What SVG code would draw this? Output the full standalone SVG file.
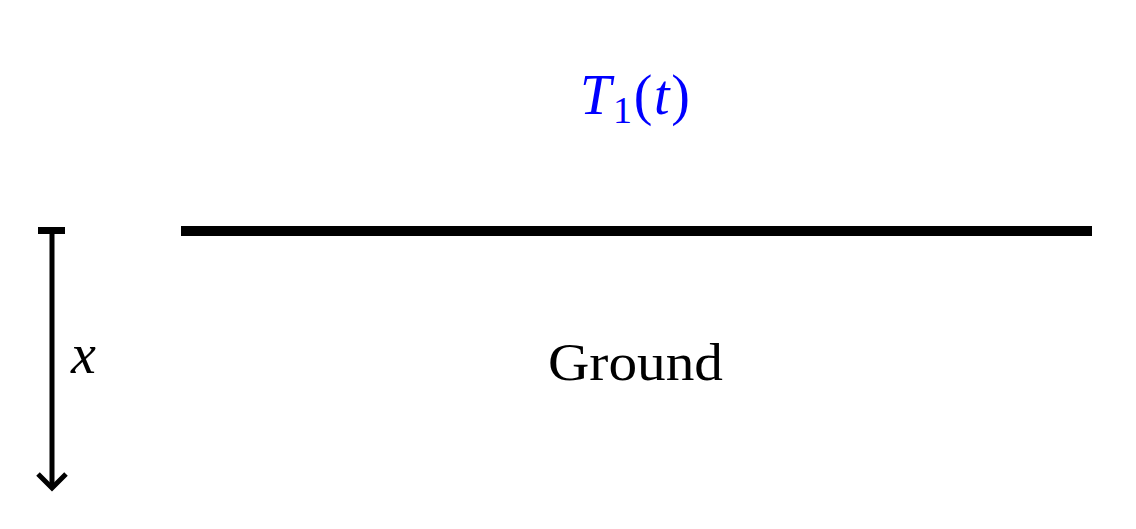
<svg xmlns="http://www.w3.org/2000/svg" width="1136" height="529" viewBox="0 0 1136 529">
<style>
.serif{font-family:"Liberation Serif","DejaVu Serif",serif}
.it{font-style:italic}
</style>
<rect width="1136" height="529" fill="#fff"/>
<g id="surface">
<rect x="181" y="226" width="911" height="10" fill="#000"/>
</g>
<g id="connectors">
<line x1="38" y1="230.5" x2="65" y2="230.5" stroke="#000" stroke-width="7"/>
<line x1="52" y1="230" x2="52" y2="486" stroke="#000" stroke-width="5"/>
<path d="M38,474 L52,488 L66,474" fill="none" stroke="#000" stroke-width="5" stroke-linejoin="miter"/>
</g>
<g id="label-x">
<text class="serif it" x="71" y="373" font-size="56">x</text>
</g>
<g id="label-T">
<text class="serif" x="580" y="114" font-size="56" fill="#0000ff" textLength="110" lengthAdjust="spacing"><tspan class="it">T</tspan><tspan font-size="38" dy="9">1</tspan><tspan dy="-9">(</tspan><tspan class="it">t</tspan><tspan>)</tspan></text>
</g>
<g id="ground">
<text class="serif" x="548" y="380" font-size="52" textLength="175" lengthAdjust="spacingAndGlyphs">Ground</text>
</g>
</svg>
